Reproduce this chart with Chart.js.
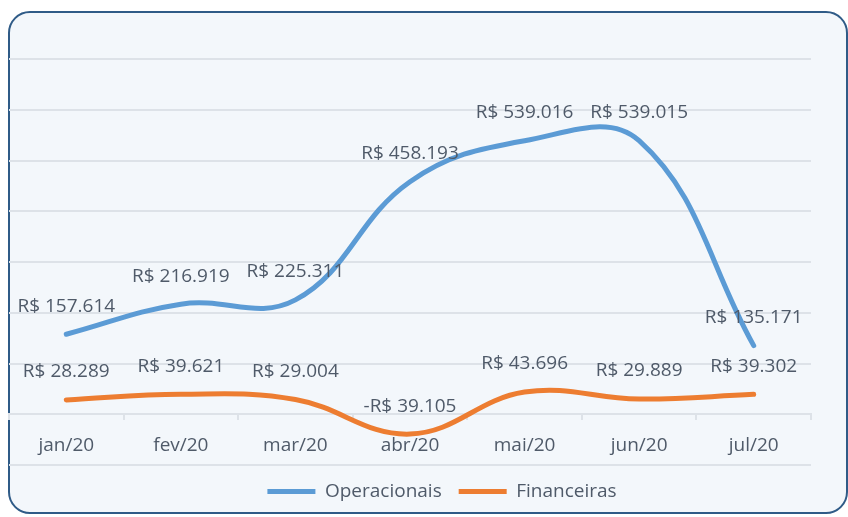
<!DOCTYPE html>
<html>
<head>
<meta charset="utf-8">
<script src="https://cdn.jsdelivr.net/npm/chart.js@4/dist/chart.umd.min.js"></script>
<style>
  html, body { margin: 0; padding: 0; background: #fff; }
  #wrap { position: relative; width: 848px; height: 517px; overflow: hidden; }
  #panel {
    position: absolute; left: 8px; top: 11px; width: 840px; height: 503px;
    box-sizing: border-box; border: 2.5px solid #2f5b87; border-radius: 22px;
    background: #f3f7fb;
  }
  #chart { position: absolute; left: 0; top: 0; }
</style>
</head>
<body>
<div id="wrap">
  <div id="panel"></div>
  <canvas id="chart" width="848" height="517"></canvas>
</div>
<script>
// categories and series
const months = ['jan/20', 'fev/20', 'mar/20', 'abr/20', 'mai/20', 'jun/20', 'jul/20'];
const operacionais = [157614, 216919, 225311, 458193, 539016, 539015, 135171];
const financeiras = [28289, 39621, 29004, -39105, 43696, 29889, 39302];

const textColor = '#4f5a69';
const gridColor = '#dde2e8';
const font = { family: '"Open Sans", sans-serif', size: 19 };

// "R$ 157.614" / "-R$ 39.105"
function brl(v) {
  const s = Math.abs(v).toString().replace(/\B(?=(\d{3})+(?!\d))/g, '.');
  return (v < 0 ? '-' : '') + 'R$ ' + s;
}

// simple data labels above each point
const valueLabels = {
  id: 'valueLabels',
  afterDatasetsDraw(chart) {
    const ctx = chart.ctx;
    ctx.save();
    ctx.font = font.size + 'px ' + font.family;
    ctx.fillStyle = textColor;
    ctx.textAlign = 'center';
    ctx.textBaseline = 'middle';
    chart.data.datasets.forEach((ds, i) => {
      chart.getDatasetMeta(i).data.forEach((pt, j) => {
        ctx.fillText(brl(ds.data[j]), pt.x, pt.y - 28);
      });
    });
    ctx.restore();
  }
};

// the legend in the original sits a bit right of the plot centre
const nudgeLegend = {
  id: 'nudgeLegend',
  afterLayout(chart) {
    chart.legend.left += 32;
    chart.legend.right += 32;
  }
};

new Chart(document.getElementById('chart'), {
  type: 'line',
  data: {
    labels: months,
    datasets: [{
      label: 'Operacionais',
      data: operacionais,
      borderColor: '#5b9bd5',
      backgroundColor: '#5b9bd5',
      borderWidth: 5,
      pointRadius: 0,
      tension: 0.4,
      borderCapStyle: 'round'
    }, {
      label: 'Financeiras',
      data: financeiras,
      borderColor: '#ed7d31',
      backgroundColor: '#ed7d31',
      borderWidth: 5,
      pointRadius: 0,
      tension: 0.4,
      borderCapStyle: 'round'
    }]
  },
  options: {
    responsive: false,
    animation: false,
    layout: { padding: { left: 9, right: 37, top: 59, bottom: 6 } },
    plugins: {
      legend: {
        position: 'bottom',
        labels: {
          usePointStyle: true,
          pointStyle: 'line',
          pointStyleWidth: 48,
          color: textColor,
          font: font,
          padding: 17
        }
      },
      tooltip: { enabled: false }
    },
    scales: {
      x: {
        type: 'category',
        offset: true,
        position: { y: 0 },
        grid: { drawOnChartArea: false, offset: true, tickLength: 5, color: gridColor, lineWidth: 2 },
        border: { display: true, color: gridColor, width: 2 },
        ticks: { color: textColor, font: font, padding: 15, maxRotation: 0 }
      },
      y: {
        min: -100000,
        max: 700000,
        ticks: { display: false, stepSize: 100000 },
        grid: { color: gridColor, lineWidth: 2, drawTicks: false },
        border: { display: false }
      }
    }
  },
  plugins: [valueLabels, nudgeLegend]
});
</script>
</body>
</html>
